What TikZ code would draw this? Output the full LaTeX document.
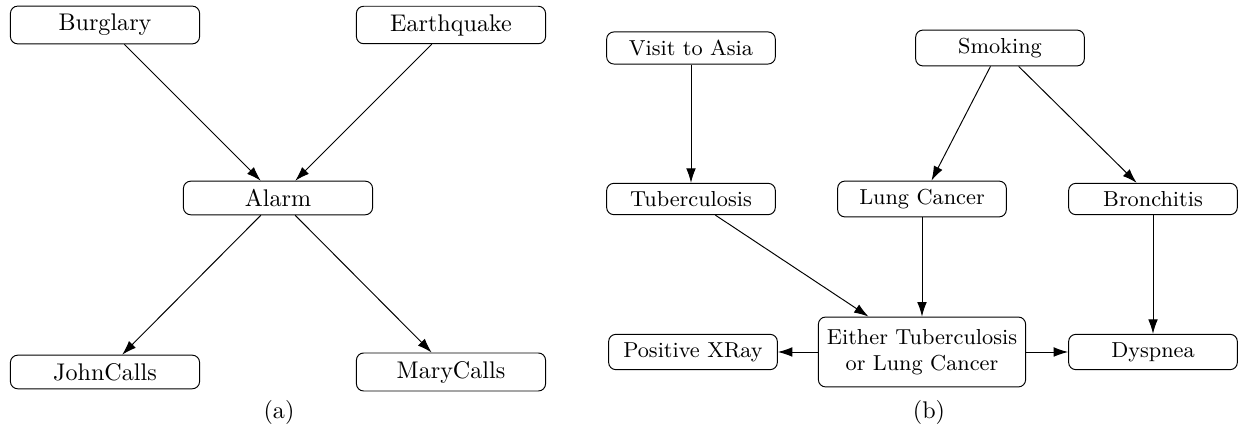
\documentclass[tikz,border=0pt]{standalone}
\usepackage{amsmath}
\usetikzlibrary{arrows.meta}

\tikzset{
  var/.style={draw, rounded corners=3pt, minimum width=78.5pt},
  varsm/.style={draw, rounded corners=3pt, minimum width=70pt, font=\small},
  link/.style={-{Latex[length=6pt,width=4pt]}},
}

\begin{document}
\begin{tikzpicture}[x=0.415pt,y=-0.415pt]
\useasboundingbox (0,0) rectangle (1239,431);
% (a) burglary network
\node[var] (burglary) at (105,25) {Burglary};
\node[var] (earthquake) at (451,25) {Earthquake};
\node[var] (alarm) at (278,198) {Alarm};
\node[var] (john) at (105,372) {JohnCalls};
\node[var] (mary) at (451,372) {MaryCalls};
\draw[link] (burglary) -- (alarm);
\draw[link] (earthquake) -- (alarm);
\draw[link] (alarm) -- (john);
\draw[link] (alarm) -- (mary);
\node (capa) at (279,412) {(a)};
% (b) asia network
\node[varsm] (asia) at (691,48) {Visit to Asia};
\node[varsm] (smoking) at (1000,48) {Smoking};
\node[varsm] (tub) at (691,199) {Tuberculosis};
\node[varsm] (lung) at (922,199) {Lung Cancer};
\node[varsm] (bronc) at (1153,199) {Bronchitis};
\node[varsm] (xray) at (693,352) {Positive XRay};
\node[draw, rounded corners=3pt, font=\small, align=center, minimum width=86pt, minimum height=29pt] (either) at (922,352) {Either Tuberculosis\\or Lung Cancer};
\node[varsm] (dysp) at (1153,352) {Dyspnea};
\draw[link] (asia) -- (tub);
\draw[link] (smoking) -- (lung);
\draw[link] (smoking) -- (bronc);
\draw[link] (tub) -- (either);
\draw[link] (lung) -- (either);
\draw[link] (bronc) -- (dysp);
\draw[link] (either) -- (xray);
\draw[link] (either) -- (dysp);
\node (capb) at (929,412) {(b)};
\end{tikzpicture}
\end{document}
